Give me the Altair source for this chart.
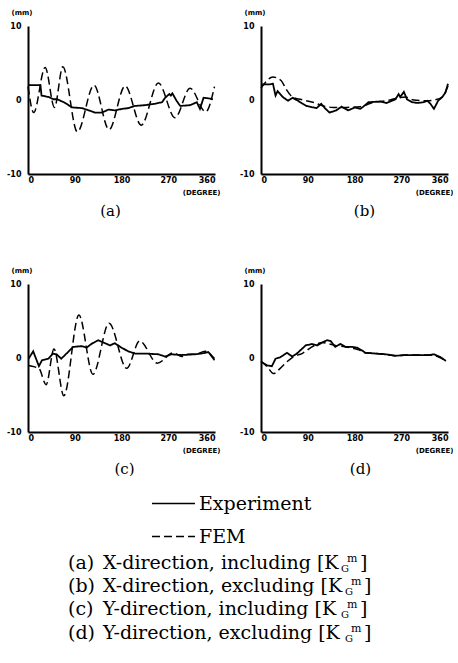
import altair as alt
import pandas as pd

# ---------------- data ----------------
X_TICKS = [0, 90, 180, 270, 360]
Y_TICKS = [-10, 0, 10]
SERIES = ["Experiment", "FEM"]
PANEL_LABELS = ["(a)", "(b)", "(c)", "(d)"]
CAPTION_TAGS = ["(a)", "(b)", "(c)", "(d)"]
CAPTION_TEXT = ["X-direction, including [K", "X-direction, excluding [K",
                "Y-direction, including [K", "Y-direction, excluding [K"]
CAPTION_SUB = ["G", "G", "G", "G"]
CAPTION_SUP = ["m", "m", "m", "m"]
CAPTION_END = ["]", "]", "]", "]"]

# (a) X-direction, including
A_EXP_DEG = [0, 24, 26, 40, 49, 56, 69, 85, 104, 117, 129, 142, 155, 168, 181, 193, 206,
             225, 245, 258, 264, 272, 275, 278, 286, 293, 312, 325, 331, 338, 350, 356]
A_EXP_VAL = [2.0, 2.0, 0.6, 0.4, 0.1, 0.1, -0.3, -1.0, -1.1, -1.4, -1.7, -1.7, -1.3, -1.4,
             -1.2, -1.1, -0.8, -0.7, -0.5, -0.3, 0.3, 0.8, 0.6, 0.9, -0.1, -0.8, -0.7,
             -0.3, -1.2, 0.3, 0.2, 0.1]
A_FEM_DEG = [0, 11, 33, 51, 67, 95, 127, 156, 187, 218, 251, 283, 312, 342, 359]
A_FEM_VAL = [1.8, -1.7, 4.4, -1.0, 4.5, -4.3, 2.0, -4.0, 1.9, -3.4, 2.3, -2.4, 1.6, -1.6, 1.8]

# (b) X-direction, excluding
B_EXP_DEG = [0, 16, 23, 28, 32, 42, 52, 61, 71, 87, 107, 116, 123, 132, 145, 155, 168, 181,
             191, 197, 207, 229, 242, 252, 259, 265, 268, 275, 281, 291, 301, 313, 320, 326,
             333, 341, 349, 355, 360]
B_EXP_VAL = [2.1, 2.1, 2.2, 0.6, 1.2, 0.4, -0.1, 0.3, -0.1, -0.8, -1.1, -0.5, -1.1, -1.7,
             -1.4, -0.9, -1.4, -1.0, -1.2, -0.9, -0.3, -0.2, -0.4, -0.1, 0.1, 0.8, 0.4, 1.1,
             0.1, -0.3, -0.4, -0.3, -0.1, -0.5, -1.2, -0.1, 0.4, 1.0, 2.2]
B_FEM_DEG = [0, 23, 39, 48, 61, 81, 100, 120, 139, 165, 191, 217, 242, 265, 278, 294, 320,
             333, 349, 360]
B_FEM_VAL = [1.6, 3.1, 2.6, 1.5, 0.4, 0.0, -0.3, -0.8, -1.0, -1.0, -0.9, -0.3, -0.1, 0.3,
             0.4, 0.0, -0.1, 0.0, 0.4, 1.9]

# (c) Y-direction, including
C_EXP_DEG = [1, 10, 21, 27, 39, 48, 55, 64, 77, 87, 103, 113, 122, 135, 145, 158, 167, 180,
             193, 206, 225, 251, 264, 276, 296, 321, 334, 347, 359]
C_EXP_VAL = [-0.1, 0.9, -1.1, -0.3, -0.1, 0.6, 0.5, -0.1, 0.8, 1.5, 1.6, 1.4, 1.9, 2.4, 2.1,
             1.7, 2.0, 1.4, 0.9, 0.6, 0.6, 0.5, 0.2, 0.5, 0.4, 0.5, 0.6, 0.8, -0.1]
C_FEM_DEG = [1, 13, 21, 35, 50, 69, 98, 125, 156, 190, 215, 249, 280, 296, 309, 321, 341, 359]
C_FEM_VAL = [-1.0, -1.2, -1.4, -3.6, 1.2, -5.1, 5.8, -2.2, 4.7, -1.4, 2.3, -0.7, 0.7, 0.2,
             0.5, 0.5, 0.9, -0.3]

# (d) Y-direction, excluding
D_EXP_DEG = [0, 12, 21, 28, 37, 50, 60, 69, 86, 98, 108, 118, 127, 134, 143, 153, 163, 176,
             185, 195, 201, 221, 240, 259, 278, 304, 323, 333, 346, 356]
D_EXP_VAL = [-0.5, -1.0, -1.1, -0.1, 0.1, 0.7, 0.2, 0.6, 1.7, 1.9, 1.7, 2.1, 2.4, 2.3, 1.5,
             1.9, 1.5, 1.5, 1.4, 1.0, 0.7, 0.6, 0.5, 0.3, 0.4, 0.4, 0.4, 0.5, 0.1, -0.4]
D_FEM_DEG = [0, 12, 24, 37, 50, 63, 79, 98, 118, 131, 143, 163, 188, 201, 221, 240, 259, 278,
             304, 323, 343, 356]
D_FEM_VAL = [-0.4, -1.2, -2.1, -1.4, -0.5, 0.2, 0.6, 1.5, 2.1, 1.9, 1.7, 1.5, 1.1, 0.7, 0.6,
             0.5, 0.3, 0.4, 0.4, 0.4, 0.1, -0.4]

# ---------------- layout / style ----------------
W, H = 187, 148
PAD_L, PAD_T = 6, 8
ORIGIN_X = 28                      # page x of the layout origin (plot left edge)
PANEL_DX = [-11, 10, 3, 6]
AXIS_FONT = "DejaVu Sans"
SERIF = "DejaVu Serif"
CAP_TOP = 522                      # page y of top of caption block
CAP_BASE = [569, 592, 615, 639]    # baselines (page px)
CAP_KEND = [342, 346, 342, 346]    # page x where "[K" ends

dash_scale = alt.Scale(domain=SERIES, range=[[1, 0], [8, 4]])


def panel(exp_deg, exp_val, fem_deg, fem_val, label, dx):
    exp = pd.DataFrame({"deg": exp_deg, "val": exp_val, "series": SERIES[0]})
    fem = pd.DataFrame({"deg": fem_deg, "val": fem_val, "series": SERIES[1]})
    x = alt.X("deg:Q", scale=alt.Scale(domain=[0, 360], nice=False),
              axis=alt.Axis(values=X_TICKS, title="(DEGREE)", titleAlign="right",
                            titleX=W + 5, titleY=18, titleBaseline="middle",
                            labelPadding=2))
    y = alt.Y("val:Q", scale=alt.Scale(domain=[-10, 10], nice=False),
              axis=alt.Axis(values=Y_TICKS, title="(mm)", titleAngle=0, titleAlign="left",
                            titleX=-17, titleY=-14, titleBaseline="middle",
                            labelPadding=7, labelExpr="'' + datum.value"))
    legend = alt.Legend(title=None, orient="none", legendX=123, legendY=455,
                        symbolType="stroke", symbolSize=1849, symbolStrokeWidth=1.5,
                        symbolStrokeColor="black", labelFont=SERIF, labelFontSize=19,
                        labelColor="black", labelOffset=3, rowPadding=0)
    sd = alt.StrokeDash("series:N", scale=dash_scale, legend=legend)
    l1 = alt.Chart(exp).mark_line(color="black", strokeWidth=1.8).encode(x=x, y=y, strokeDash=sd)
    l2 = alt.Chart(fem).mark_line(color="black", strokeWidth=1.5, interpolate="monotone").encode(
        x=x, y=y, strokeDash=sd)
    return alt.layer(l1, l2).properties(
        width=W, height=H,
        title=alt.TitleParams(label, orient="bottom", font=SERIF, fontSize=15,
                              fontWeight="normal", color="black", offset=9, dx=dx))


pa = panel(A_EXP_DEG, A_EXP_VAL, A_FEM_DEG, A_FEM_VAL, PANEL_LABELS[0], PANEL_DX[0])
pb = panel(B_EXP_DEG, B_EXP_VAL, B_FEM_DEG, B_FEM_VAL, PANEL_LABELS[1], PANEL_DX[1])
pc = panel(C_EXP_DEG, C_EXP_VAL, C_FEM_DEG, C_FEM_VAL, PANEL_LABELS[2], PANEL_DX[2])
pd_ = panel(D_EXP_DEG, D_EXP_VAL, D_FEM_DEG, D_FEM_VAL, PANEL_LABELS[3], PANEL_DX[3])

# ---------------- caption block ----------------
cap = pd.DataFrame({
    "tag": CAPTION_TAGS,
    "text": CAPTION_TEXT,
    "sub": CAPTION_SUB,
    "sup": CAPTION_SUP,
    "end": CAPTION_END,
    "yb": [b - CAP_TOP for b in CAP_BASE],
    "kx": [k - ORIGIN_X for k in CAP_KEND],
})
cbase = alt.Chart(cap)
ypos = alt.Y("yb:Q", scale=None, axis=None)
kpos = alt.X("kx:Q", scale=None, axis=None)
tstyle = dict(font=SERIF, color="black", baseline="alphabetic", align="left")
c_tag = cbase.mark_text(fontSize=19, **tstyle).encode(x=alt.value(68 - ORIGIN_X), y=ypos, text="tag:N")
c_txt = cbase.mark_text(fontSize=19, **tstyle).encode(x=alt.value(103 - ORIGIN_X), y=ypos, text="text:N")
c_g = cbase.mark_text(fontSize=10, dx=-1, dy=3, **tstyle).encode(x=kpos, y=ypos, text="sub:N")
c_m = cbase.mark_text(fontSize=11, dx=5, dy=-7, **tstyle).encode(x=kpos, y=ypos, text="sup:N")
c_b = cbase.mark_text(fontSize=19, dx=18, **tstyle).encode(x=kpos, y=ypos, text="end:N")
captions = alt.layer(c_tag, c_txt, c_g, c_m, c_b).properties(width=400, height=130)

row1 = alt.hconcat(pa, pb, spacing=19)
row2 = alt.hconcat(pc, pd_, spacing=19)
grid = alt.vconcat(row1, row2, spacing=47)

chart = alt.vconcat(grid, captions, spacing=45).properties(
    padding={"left": PAD_L, "top": PAD_T, "right": 0, "bottom": 0},
    background="white",
).configure_view(stroke=None).configure_axis(
    grid=False, ticks=False, domainColor="black", domainWidth=2,
    labelFont=AXIS_FONT, labelFontWeight="bold", labelFontSize=8, labelColor="black",
    titleFont=AXIS_FONT, titleFontWeight="bold", titleFontSize=7, titleColor="black",
)

chart.save("out.html", embed_options={"renderer": "svg", "actions": False})
